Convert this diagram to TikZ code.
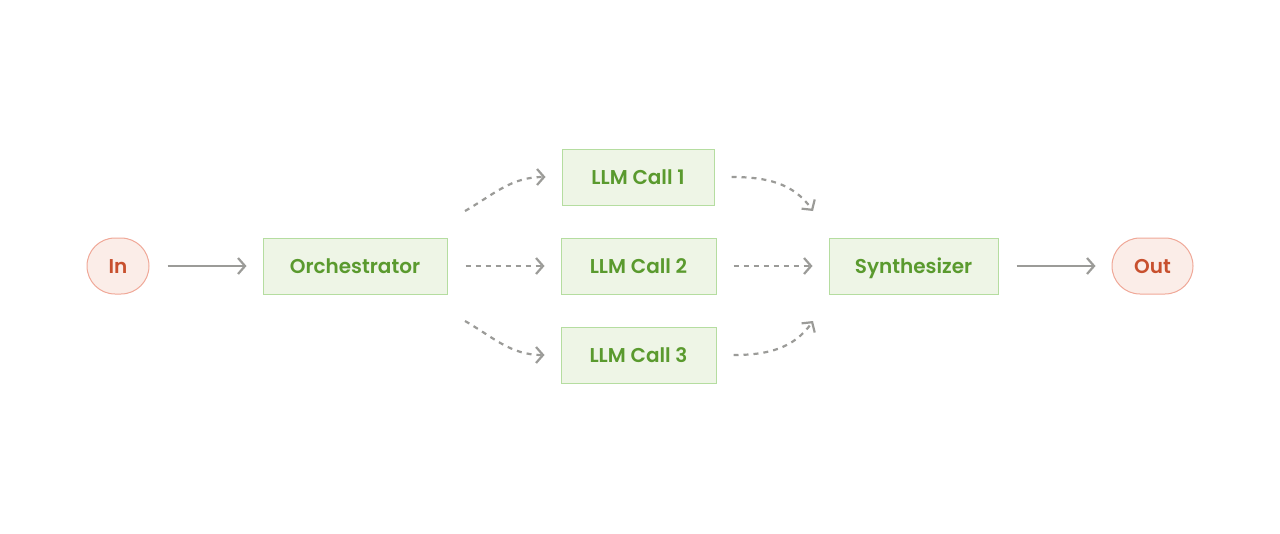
\documentclass[tikz,border=0pt]{standalone}
\usepackage{fontspec}
\setmainfont{Poppins}[BoldFont={Poppins SemiBold}]
\usetikzlibrary{arrows.meta}
\definecolor{gfill}{HTML}{EEF5E6}
\definecolor{gdraw}{HTML}{B5DDA0}
\definecolor{gtext}{HTML}{5A9A2E}
\definecolor{rfill}{HTML}{FBEDE8}
\definecolor{rdraw}{HTML}{F0A898}
\definecolor{rtext}{HTML}{C8502E}
\definecolor{arr}{HTML}{9B9B98}
\begin{document}
\begin{tikzpicture}[x=1pt,y=-1pt,
  gbox/.style={draw=gdraw,fill=gfill,text=gtext,line width=1pt,font=\fontsize{20}{24}\selectfont\bfseries,minimum height=56pt,inner sep=0pt,text height=14pt,text depth=0pt},
  rbox/.style={draw=rdraw,fill=rfill,text=rtext,line width=1pt,rounded corners=28pt,font=\fontsize{20}{24}\selectfont\bfseries,minimum height=56pt,inner sep=0pt,text height=14pt,text depth=0pt},
  solidarr/.style={draw=arr,line width=2.2pt,-{Straight Barb[length=7pt,width=16pt,line width=2.2pt]}},
  dasharr/.style={solidarr,dash pattern=on 5pt off 5pt}]
\useasboundingbox (0,0) rectangle (1280,533);
\node[rbox,minimum width=62pt] (in) at (118,266) {In};
\node[gbox,minimum width=184pt] (orch) at (355,266) {Orchestrator};
\node[gbox,minimum width=152pt] (l1) at (638,177) {LLM Call 1};
\node[gbox,minimum width=155pt] (l2) at (638.5,266) {LLM Call 2};
\node[gbox,minimum width=155pt] (l3) at (638.5,355) {LLM Call 3};
\node[gbox,minimum width=169pt] (syn) at (913.5,266) {Synthesizer};
\node[rbox,minimum width=81pt] (out) at (1152.5,266) {Out};
\coordinate (o1) at (465,211); \coordinate (o3) at (465,321);
\coordinate (s1) at (813,211); \coordinate (s3) at (813,321);
\draw[solidarr] ([xshift=18pt]in.east) -- ([xshift=-16pt]orch.west);
\draw[dasharr] ([xshift=18pt]orch.east) -- ([xshift=-16pt]l2.west);
\draw[dasharr] (o1) to[out=30,in=180] ([xshift=-16pt]l1.west);
\draw[dasharr] (o3) to[out=-30,in=180] ([xshift=-16pt]l3.west);
\draw[dasharr] ([xshift=17pt]l1.east) to[out=0,in=125] (s1);
\draw[dasharr] ([xshift=17pt]l2.east) -- ([xshift=-16pt]syn.west);
\draw[dasharr] ([xshift=17pt]l3.east) to[out=0,in=-125] (s3);
\draw[solidarr] ([xshift=18pt]syn.east) -- ([xshift=-16pt]out.west);
\end{tikzpicture}
\end{document}
